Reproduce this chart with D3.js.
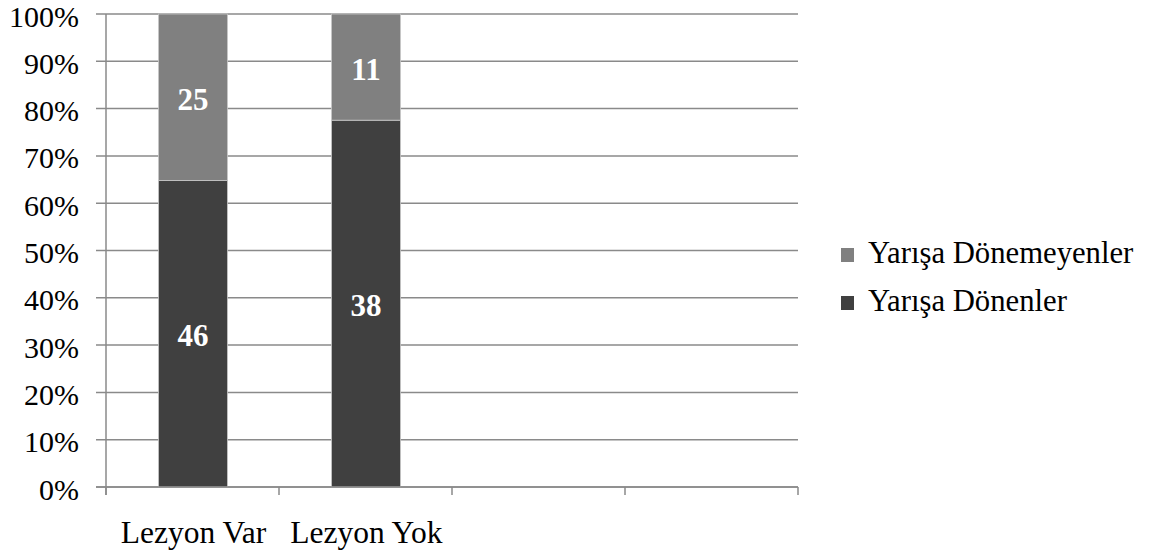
<!DOCTYPE html>
<html>
<head>
<meta charset="utf-8">
<script src="https://cdn.jsdelivr.net/npm/d3@7"></script>
<style>
  html, body { margin: 0; padding: 0; background: #fff; }
  svg { display: block; }
  svg text { font-family: "Liberation Serif", "Times New Roman", Times, serif; }
</style>
</head>
<body>
<svg id="chart" width="1151" height="557"></svg>
<script>
// Categories on the x axis (two empty slots follow the data columns)
const categories = ["Lezyon Var", "Lezyon Yok", "", " "];
// Counts per series, in category order
const series = ["Yarışa Dönenler", "Yarışa Dönemeyenler"];
const donenler = [46, 38];
const donemeyenler = [25, 11];
const yTicks = [0, 0.1, 0.2, 0.3, 0.4, 0.5, 0.6, 0.7, 0.8, 0.9, 1.0];

const colors = { "Yarışa Dönenler": "#404040", "Yarışa Dönemeyenler": "#808080" };
const axisColor = "#8a8a8a";
const serif = "Liberation Serif";

const svg = d3.select("#chart");
const plotLeft = 106, plotRight = 798, plotTop = 14, plotBottom = 487;

const x = d3.scaleBand().domain(categories).range([plotLeft, plotRight]).paddingInner(0).paddingOuter(0);
const y = d3.scaleLinear().domain([0, 1]).range([plotBottom, plotTop]);

// Gridlines with short outward ticks
svg.append("g")
  .selectAll("line")
  .data(yTicks)
  .join("line")
  .attr("x1", plotLeft - 10).attr("x2", plotRight)
  .attr("y1", d => y(d)).attr("y2", d => y(d))
  .attr("stroke", axisColor).attr("stroke-width", 1.5);

// Y axis labels
svg.append("g")
  .selectAll("text")
  .data(yTicks)
  .join("text")
  .attr("x", 79)
  .attr("y", d => y(d) + 12.5)
  .attr("text-anchor", "end")
  .attr("font-family", serif)
  .attr("font-size", 30)
  .attr("fill", "#000")
  .text(d => d3.format(".0%")(d));

// Y axis line
svg.append("line")
  .attr("x1", plotLeft).attr("x2", plotLeft).attr("y1", plotTop).attr("y2", plotBottom + 8)
  .attr("stroke", axisColor).attr("stroke-width", 1.5);

// Stacked data, normalized to 100%
const rows = donenler.map((v, i) => ({
  cat: categories[i],
  "Yarışa Dönenler": v,
  "Yarışa Dönemeyenler": donemeyenler[i]
}));
const stack = d3.stack().keys(series).offset(d3.stackOffsetExpand);
const stacked = stack(rows);

const barW = 69;
const layers = svg.append("g").selectAll("g")
  .data(stacked)
  .join("g")
  .attr("fill", d => colors[d.key]);

layers.selectAll("rect")
  .data(d => d.map(p => ({ key: d.key, p })))
  .join("rect")
  .attr("x", d => x(d.p.data.cat) + x.bandwidth() / 2 - barW / 2 + 0.5)
  .attr("width", barW)
  .attr("y", d => y(d.p[1]))
  .attr("height", d => y(d.p[0]) - y(d.p[1]))
  .attr("stroke", "#c8c8c8")
  .attr("stroke-width", 0.8);

// Value labels at segment centres
layers.selectAll("text")
  .data(d => d.map(p => ({ key: d.key, p })))
  .join("text")
  .attr("x", d => x(d.p.data.cat) + x.bandwidth() / 2 + 0.5)
  .attr("y", d => y((d.p[0] + d.p[1]) / 2) + 12.7)
  .attr("text-anchor", "middle")
  .attr("font-family", serif)
  .attr("font-size", 31)
  .attr("font-weight", "bold")
  .attr("fill", "#fff")
  .text(d => d.p.data[d.key]);

// X axis line and category ticks
svg.append("line")
  .attr("x1", plotLeft - 10).attr("x2", plotRight).attr("y1", plotBottom).attr("y2", plotBottom)
  .attr("stroke", axisColor).attr("stroke-width", 1.5);

const bounds = categories.map(c => x(c)).concat([plotRight]);
svg.append("g").selectAll("line")
  .data(bounds)
  .join("line")
  .attr("x1", d => d).attr("x2", d => d)
  .attr("y1", plotBottom).attr("y2", plotBottom + 8)
  .attr("stroke", axisColor).attr("stroke-width", 1.5);

// Category labels
svg.append("g").selectAll("text")
  .data(categories)
  .join("text")
  .attr("x", d => x(d) + x.bandwidth() / 2 + 1)
  .attr("y", 543)
  .attr("text-anchor", "middle")
  .attr("font-family", serif)
  .attr("font-size", 31.5)
  .attr("fill", "#000")
  .text(d => d.trim());

// Legend (top entry is the upper series)
const legendItems = ["Yarışa Dönemeyenler", "Yarışa Dönenler"];
const legend = svg.append("g").selectAll("g")
  .data(legendItems)
  .join("g")
  .attr("transform", (d, i) => `translate(841, ${248 + i * 48})`);
legend.append("rect")
  .attr("width", 13).attr("height", 14)
  .attr("fill", d => colors[d]);
legend.append("text")
  .attr("x", 27).attr("y", 15)
  .attr("font-family", serif)
  .attr("font-size", 30.7)
  .attr("fill", "#000")
  .text(d => d);
</script>
</body>
</html>
